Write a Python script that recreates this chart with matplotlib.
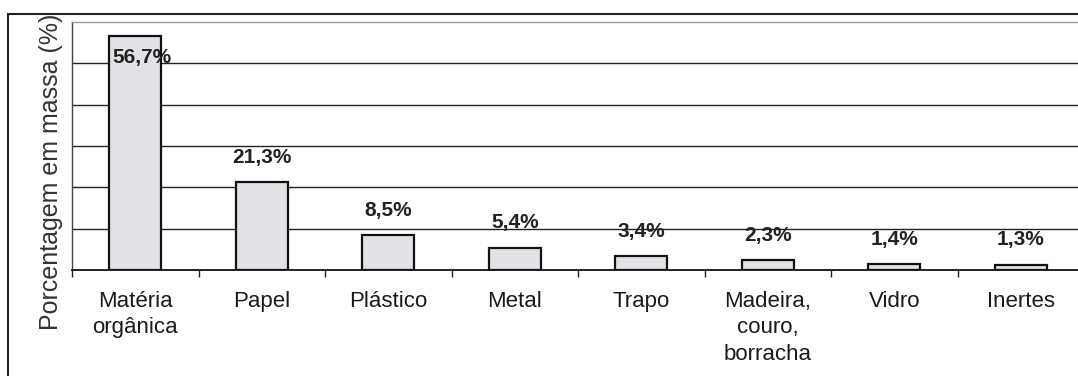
import matplotlib
matplotlib.use("Agg")
import matplotlib.pyplot as plt
from matplotlib.patches import Rectangle
import numpy as np

plt.rcParams['font.family'] = ['Liberation Sans', 'DejaVu Sans']

categorias = ["Matéria\norgânica", "Papel", "Plástico", "Metal", "Trapo",
              "Madeira,\ncouro,\nborracha", "Vidro", "Inertes"]
percentuais = [56.7, 21.3, 8.5, 5.4, 3.4, 2.3, 1.4, 1.3]
rotulos = ["56,7%", "21,3%", "8,5%", "5,4%", "3,4%", "2,3%", "1,4%", "1,3%"]

fig = plt.figure(figsize=(10.78, 3.76), dpi=100)
ax = fig.add_axes([0.0668, 0.2819, 0.9388, 0.6596])

x = np.arange(len(categorias))
ax.bar(x, percentuais, width=0.41, color='#e2e2e6', edgecolor='#111111',
       linewidth=1.6, zorder=3)

ax.set_xlim(-0.5, len(categorias) - 0.5)
ax.set_ylim(0, 60)

# linhas de grade horizontais a cada 10%
for g in range(10, 60, 10):
    ax.axhline(g, color='#222222', linewidth=1.0, zorder=1)

ax.set_yticks([])
ax.set_xticks(x)
ax.set_xticklabels(categorias, fontsize=16, color='#1a1a1a', linespacing=1.35)
ax.tick_params(axis='x', which='major', length=0, pad=15)
ax.set_xticks(np.arange(-0.5, len(categorias), 1.0), minor=True)
ax.tick_params(axis='x', which='minor', length=5, width=1.0, color='#222222')

ax.spines['top'].set_color('#9a9a9a')
ax.spines['top'].set_linewidth(1.0)
ax.spines['left'].set_color('#444444')
ax.spines['left'].set_linewidth(1.0)
ax.spines['bottom'].set_color('#111111')
ax.spines['bottom'].set_linewidth(1.3)
ax.spines['right'].set_visible(False)

for xi, v, r in zip(x, percentuais, rotulos):
    if v + 8 > 60:
        ax.annotate(r, (xi, v), xytext=(5, -9), textcoords='offset points',
                    ha='center', va='top', fontsize=15, fontweight='bold',
                    color='#222222', zorder=4)
    else:
        ax.annotate(r, (xi, v), xytext=(0, 11), textcoords='offset points',
                    ha='center', va='bottom', fontsize=15, fontweight='bold',
                    color='#222222', zorder=4)

fig.text(51 / 1078, 1 - 172 / 376, "Porcentagem em massa (%)", rotation=90,
         ha='center', va='center', fontsize=18, color='#333333')

# moldura externa
fig.patches.append(Rectangle((8 / 1078, -0.1), 1.2, 1.1 - 14 / 376,
                             transform=fig.transFigure, fill=False,
                             edgecolor='#222222', linewidth=1.5, clip_on=False))

fig.savefig("out.png", dpi=100)
